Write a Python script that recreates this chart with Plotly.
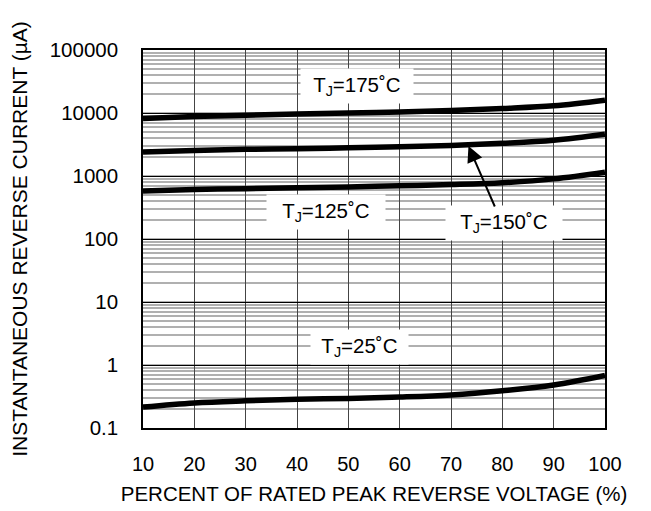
import plotly.graph_objects as go

voltage_pct = [10, 20, 30, 40, 50, 60, 70, 80, 90, 100]
i_175 = [8200, 8800, 9200, 9600, 10000, 10400, 11000, 11800, 13000, 16000]
i_150 = [2400, 2550, 2650, 2700, 2800, 2900, 3050, 3300, 3700, 4600]
i_125 = [580, 610, 630, 650, 670, 700, 730, 780, 900, 1150]
i_25 = [0.215, 0.25, 0.27, 0.285, 0.295, 0.31, 0.335, 0.39, 0.48, 0.68]

y_tickvals = [0.1, 1, 10, 100, 1000, 10000, 100000]
y_ticktext = ["0.1", "1", "10", "100", "1000", "10000", "100000"]
x_tickvals = [10, 20, 30, 40, 50, 60, 70, 80, 90, 100]

fig = go.Figure()
for ys in [i_175, i_150, i_125, i_25]:
    fig.add_trace(go.Scatter(x=voltage_pct, y=ys, mode="lines",
                             line=dict(color="black", width=5.5, shape="spline"),
                             showlegend=False, hoverinfo="skip"))

FAM = "Liberation Sans, Arial, sans-serif"
font = dict(family=FAM, size=20.5, color="black")

labels = [
    (51.7, 4.43, "T<sub>J</sub>=175˚C", 108),
    (45.6, 2.43, "T<sub>J</sub>=125˚C", 114),
    (80.3, 2.254, "T<sub>J</sub>=150˚C", 112),
    (52.1, 0.286, "T<sub>J</sub>=25˚C", 93),
]
for x, y, t, w in labels:
    fig.add_annotation(x=x, y=y, xref="x", yref="y", text=t, showarrow=False,
                       font=font, bgcolor="white", borderpad=2, width=w, height=30)

# arrow for 150C
fig.add_annotation(x=73.4, y=-1 + (428 - 146) / 63, xref="x", yref="y",
                   text="", showarrow=True, ax=27, ay=62,
                   arrowcolor="black", arrowwidth=2, arrowhead=2, arrowsize=1.6)

fig.update_layout(
    width=651, height=511,
    margin=dict(l=135, r=54, t=42, b=91),
    paper_bgcolor="white", plot_bgcolor="white",
    font=dict(family=FAM, size=19, color="black"),
    xaxis=dict(range=[10, 100], tickvals=x_tickvals, showgrid=True,
               gridcolor="#444444", gridwidth=1, showline=True, linecolor="black",
               linewidth=1.5, mirror=True, ticks="outside", ticklen=17,
               tickcolor="rgba(0,0,0,0)", zeroline=False,
               title=dict(text="PERCENT OF RATED PEAK REVERSE VOLTAGE (%)",
                          font=dict(size=20.5), standoff=13),
               tickfont=dict(size=20)),
    yaxis=dict(type="log", range=[-1, 5], tickvals=y_tickvals, ticktext=y_ticktext,
               showgrid=True, gridcolor="black", gridwidth=1, showline=True,
               linecolor="black", linewidth=1.5, mirror=True,
               ticks="outside", ticklen=19, tickcolor="rgba(0,0,0,0)",
               zeroline=False,
               minor=dict(dtick="D1", showgrid=True, gridcolor="#b0b0b0", gridwidth=1.5, ticks=""),
               title=dict(text="INSTANTANEOUS REVERSE CURRENT (µA)", font=dict(size=21),
                          standoff=16),
               tickfont=dict(size=20.5)),
)

fig.write_html("out.html")
